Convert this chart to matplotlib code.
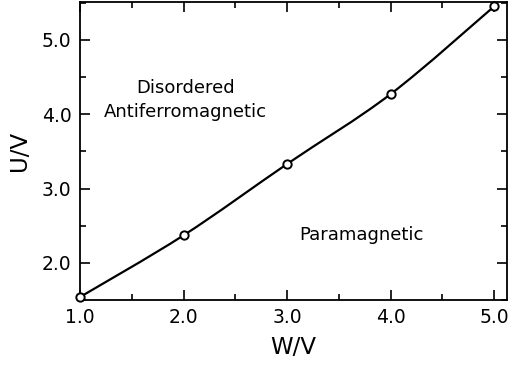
import matplotlib
matplotlib.use("Agg")
import matplotlib.pyplot as plt
from matplotlib.path import Path
from matplotlib.patches import PathPatch
from matplotlib.ticker import MultipleLocator, FormatStrFormatter

plt.rcParams['font.family'] = ['DejaVu Sans']

w_vals = [1.0, 2.0, 3.0, 4.0, 5.0]
u_vals = [1.54, 2.37, 3.33, 4.27, 5.45]
x_ticks = [1.0, 2.0, 3.0, 4.0, 5.0]
y_ticks = [2.0, 3.0, 4.0, 5.0]
label_line1 = "Disordered"
label_line2 = "Antiferromagnetic"
label_para = "Paramagnetic"

fig = plt.figure(figsize=(5.11, 3.66), dpi=100)
ax = fig.add_axes([80/511, 1-300/366, 427/511, 298/366])

# smooth curve through the points (Catmull-Rom style cubic Bezier segments)
pts = list(zip(w_vals, u_vals))
n = len(pts)
verts = [pts[0]]
codes = [Path.MOVETO]
for i in range(n - 1):
    p0 = pts[i - 1] if i > 0 else pts[i]
    p1 = pts[i]
    p2 = pts[i + 1]
    p3 = pts[i + 2] if i + 2 < n else pts[i + 1]
    c1 = (p1[0] + (p2[0] - p0[0]) / 6, p1[1] + (p2[1] - p0[1]) / 6)
    c2 = (p2[0] - (p3[0] - p1[0]) / 6, p2[1] - (p3[1] - p1[1]) / 6)
    verts += [c1, c2, p2]
    codes += [Path.CURVE4] * 3
ax.add_patch(PathPatch(Path(verts, codes), facecolor='none', edgecolor='black', lw=1.6, zorder=2))
ax.plot(w_vals, u_vals, linestyle='none', marker='o', markersize=6,
        markerfacecolor='white', markeredgecolor='black', markeredgewidth=1.4, zorder=3,
        clip_on=False)

ax.set_xlim(1.0, 5.125)
ax.set_ylim(1.5, 5.51)
ax.set_xticks(x_ticks)
ax.set_yticks(y_ticks)
ax.xaxis.set_major_formatter(FormatStrFormatter('%.1f'))
ax.yaxis.set_major_formatter(FormatStrFormatter('%.1f'))
ax.xaxis.set_minor_locator(MultipleLocator(0.5))
ax.yaxis.set_minor_locator(MultipleLocator(0.5))
ax.tick_params(which='both', direction='in', top=True, right=True, width=1.2, labelsize=13.5, pad=6)
ax.tick_params(which='major', length=7)
ax.tick_params(which='minor', length=4.5)
for s in ax.spines.values():
    s.set_linewidth(1.3)

ax.set_xlabel("W/V", fontsize=16.5, labelpad=6)
ax.set_ylabel("U/V", fontsize=16.5, labelpad=8)

ax.text(2.02, 4.28, label_line1, ha='center', va='baseline', fontsize=13)
ax.text(2.02, 3.96, label_line2, ha='center', va='baseline', fontsize=13)
ax.text(3.715, 2.31, label_para, ha='center', va='baseline', fontsize=13)

fig.savefig("out.png", dpi=100)
